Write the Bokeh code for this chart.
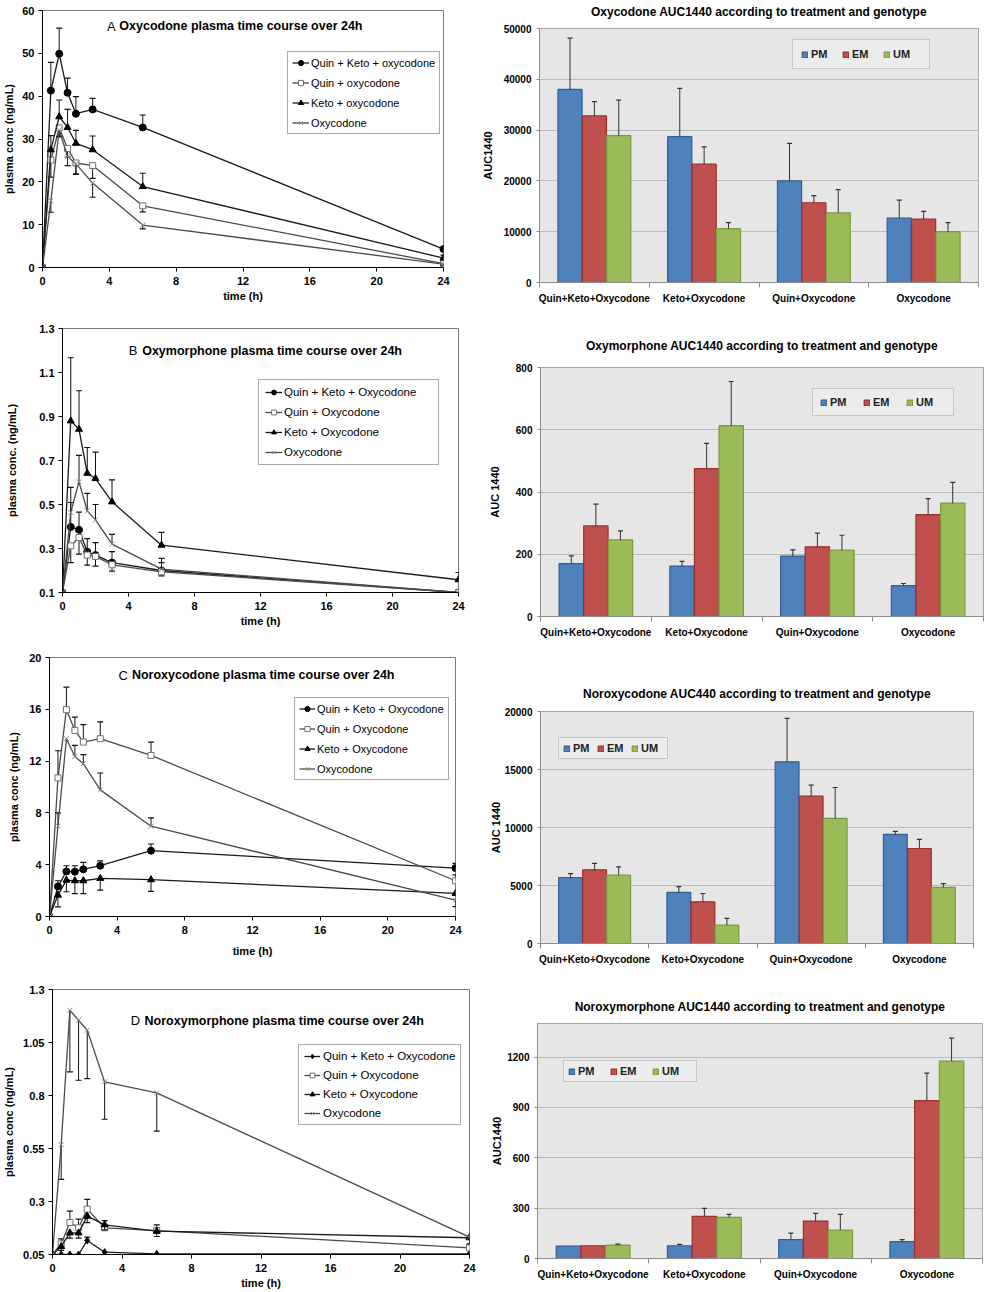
from bokeh.plotting import figure
from bokeh.layouts import column, row
from bokeh.models import Range1d, FixedTicker, Legend, LegendItem, Label, LinearAxis
from bokeh.embed import file_html
from bokeh.resources import INLINE

FONT = "Liberation Sans"

# ---------------- data: time courses ----------------
TIME = [0, 0.5, 1, 1.5, 2, 3, 6, 24]
TIME_TICKS = [0, 4, 8, 12, 16, 20, 24]

LABELS_A = ["Quin + Keto + oxycodone", "Quin + oxycodone", "Keto + oxycodone", "Oxycodone"]
LABELS_BCD = ["Quin + Keto + Oxycodone", "Quin + Oxycodone", "Keto + Oxycodone", "Oxycodone"]

# A: Oxycodone (ng/mL); errors signed (+ up, - down)
A_QKO = [0, 41.3, 49.9, 40.8, 35.9, 36.9, 32.7, 4.3]
A_QKO_ERR = [0, 6.6, 6.0, 3.4, 4.0, 2.6, 2.9, 0.4]
A_QUIN = [0, 25.1, 32.6, 27.8, 24.4, 23.8, 14.4, 0.9]
A_QUIN_ERR = [0, -4.0, -2.1, -2.0, -2.6, -3.0, -1.4, -0.3]
A_KETO = [0, 27.5, 35.2, 32.7, 29.0, 27.5, 18.9, 2.2]
A_KETO_ERR = [0, 3.3, 3.9, 4.2, 3.0, 3.2, 3.1, 0.7]
A_OXY = [0, 15.6, 32.1, 25.9, 24.2, 19.7, 9.9, 0.8]
A_OXY_ERR = [0, -2.7, -1.5, -2.1, -2.4, -3.3, -0.9, -0.3]
A_YTICKS = [0, 10, 20, 30, 40, 50, 60]
A_YTICK_LABELS = ["0", "10", "20", "30", "40", "50", "60"]

# B: Oxymorphone
B_QKO = [0.1, 0.398, 0.385, 0.285, 0.27, 0.236, 0.20, 0.10]
B_QKO_ERR = [0, 0.18, 0.08, 0.06, 0.057, 0.05, 0.055, 0]
B_QUIN = [0.1, 0.312, 0.35, 0.27, 0.264, 0.226, 0.194, 0.10]
B_QUIN_ERR = [0, -0.076, -0.076, -0.046, -0.044, -0.029, -0.018, 0]
B_KETO = [0.1, 0.88, 0.842, 0.642, 0.618, 0.512, 0.315, 0.158]
B_KETO_ERR = [0, 0.287, 0.175, 0.117, 0.12, 0.10, 0.058, 0.033]
B_OXY = [0.1, 0.464, 0.603, 0.471, 0.43, 0.32, 0.206, 0.10]
B_OXY_ERR = [0, 0.045, 0.12, 0.08, 0.07, 0.044, 0.03, 0]
B_YTICKS = [0.1, 0.3, 0.5, 0.7, 0.9, 1.1, 1.3]
B_YTICK_LABELS = ["0.1", "0.3", "0.5", "0.7", "0.9", "1.1", "1.3"]

# C: Noroxycodone
C_QKO = [0, 2.32, 3.48, 3.46, 3.64, 3.92, 5.08, 3.74]
C_QKO_ERR = [0, 0.44, 0.44, 0.46, 0.54, 0.38, 0.52, 0.36]
C_QUIN = [0, 10.7, 15.97, 14.37, 13.47, 13.73, 12.44, 2.76]
C_QUIN_ERR = [0, 2.1, 1.75, 1.03, 1.35, 1.3, 1.03, 0.45]
C_KETO = [0, 1.65, 2.81, 2.76, 2.76, 2.94, 2.84, 1.78]
C_KETO_ERR = [0, -0.9, -0.9, -1.0, -1.0, -0.9, -0.9, 0]
C_OXY = [0, 7.0, 13.73, 12.36, 11.8, 9.78, 6.97, 1.26]
C_OXY_ERR = [0, 1.0, 0, 0.85, 0.7, 1.3, 0.65, -0.5]
C_YTICKS = [0, 4, 8, 12, 16, 20]
C_YTICK_LABELS = ["0", "4", "8", "12", "16", "20"]

# D: Noroxymorphone
D_QKO = [0.05, 0.05, 0.05, 0.05, 0.116, 0.061, 0.053, 0.053]
D_QKO_ERR = [0, 0, 0, 0, 0.016, 0, 0, 0]
D_QUIN = [0.05, 0.10, 0.201, 0.176, 0.264, 0.176, 0.163, 0.081]
D_QUIN_ERR = [0, 0.024, 0.054, 0.041, 0.046, 0.034, 0.027, 0]
D_KETO = [0.05, 0.088, 0.152, 0.152, 0.231, 0.19, 0.16, 0.129]
D_KETO_ERR = [0, -0.019, -0.025, -0.025, -0.031, -0.024, -0.025, -0.029]
D_OXY = [0.05, 0.568, 1.202, 1.155, 1.108, 0.864, 0.812, 0.132]
D_OXY_ERR = [0, -0.164, -0.291, -0.283, -0.228, -0.176, -0.18, 0]
D_YTICKS = [0.05, 0.3, 0.55, 0.8, 1.05, 1.3]
D_YTICK_LABELS = ["0.05", "0.3", "0.55", "0.8", "1.05", "1.3"]

# ---------------- data: AUC bar charts ----------------
CATEGORIES = ["Quin+Keto+Oxycodone", "Keto+Oxycodone", "Quin+Oxycodone", "Oxycodone"]
GENOTYPES = ["PM", "EM", "UM"]

A2_PM = [38000, 28700, 20000, 12700]
A2_PM_ERR = [10100, 9500, 7400, 3500]
A2_EM = [32800, 23300, 15700, 12500]
A2_EM_ERR = [2800, 3400, 1400, 1500]
A2_UM = [28900, 10600, 13700, 10000]
A2_UM_ERR = [7000, 1200, 4600, 1800]
A2_YTICKS = [0, 10000, 20000, 30000, 40000, 50000]

B2_PM = [170, 162, 194, 99]
B2_PM_ERR = [25, 15, 20, 7]
B2_EM = [291, 475, 224, 327]
B2_EM_ERR = [70, 81, 44, 52]
B2_UM = [246, 613, 213, 364]
B2_UM_ERR = [29, 142, 48, 67]
B2_YTICKS = [0, 200, 400, 600, 800]

C2_PM = [5690, 4400, 15660, 9400]
C2_PM_ERR = [340, 510, 3740, 260]
C2_EM = [6350, 3590, 12700, 8190]
C2_EM_ERR = [550, 720, 950, 780]
C2_UM = [5890, 1580, 10780, 4830]
C2_UM_ERR = [720, 580, 2670, 340]
C2_YTICKS = [0, 5000, 10000, 15000, 20000]

D2_PM = [74, 76, 113, 100]
D2_PM_ERR = [0, 8, 38, 13]
D2_EM = [76, 251, 223, 941]
D2_EM_ERR = [0, 48, 46, 163]
D2_UM = [80, 245, 169, 1176]
D2_UM_ERR = [6, 18, 94, 137]
D2_YTICKS = [0, 300, 600, 900, 1200]

# ---------------- styling ----------------
SERIES_STYLE = [
    dict(marker="circle", size=7, fill="black", mline="black", lcol="#1a1a1a"),
    dict(marker="square", size=6, fill="white", mline="#707070", lcol="#4a4a4a"),
    dict(marker="triangle", size=7, fill="black", mline="black", lcol="#1a1a1a"),
    dict(marker="x", size=7, fill=None, mline="#8a8a8a", lcol="#4a4a4a"),
]
BAR_FILL = ["#4f81bd", "#c0504d", "#9bbb59"]
BAR_LINE = ["#2f5f95", "#9a2f2c", "#7a9a3f"]

WL, WR = 478, 507
ROW_H = [310, 335, 325, 322]


def error_bars(p, xs, vals, errs, color, cap):
    x_e = [x for x, e in zip(xs, errs) if e != 0]
    y0 = [v for v, e in zip(vals, errs) if e != 0]
    y1 = [v + e for v, e in zip(vals, errs) if e != 0]
    if x_e:
        p.segment(x0=x_e, y0=y0, x1=x_e, y1=y1, line_color=color, line_width=1)
        p.scatter(x_e, y1, marker="dash", size=cap, line_color=color, line_width=1.2)


def time_panel(cfg):
    p = figure(width=WL, height=cfg["h"], output_backend="svg", toolbar_location=None,
               title_location=None,
               x_range=Range1d(0, 24), y_range=Range1d(cfg["yticks"][0], cfg["yticks"][-1]),
               min_border_left=cfg["b"][0], min_border_right=cfg["b"][1],
               min_border_top=cfg["b"][2], min_border_bottom=cfg["b"][3])
    p.xgrid.visible = False
    p.ygrid.visible = False
    p.outline_line_color = "#7a7a7a"
    p.background_fill_color = "white"
    p.border_fill_color = "white"
    for ax in (p.xaxis[0], p.yaxis[0]):
        ax.axis_line_color = "black"
        ax.major_tick_line_color = "black"
        ax.minor_tick_line_color = None
        ax.major_tick_in = 0
        ax.major_tick_out = 4
        ax.major_label_text_font = FONT
        ax.major_label_text_font_size = "11px"
        ax.major_label_text_font_style = "bold"
        ax.major_label_text_color = "black"
        ax.axis_label_text_font = FONT
        ax.axis_label_text_font_size = "11px"
        ax.axis_label_text_font_style = "bold"
        ax.axis_label_text_color = "black"
    p.xaxis.ticker = FixedTicker(ticks=TIME_TICKS)
    p.xaxis.axis_label = "time (h)"
    p.xaxis.major_label_standoff = 5
    p.xaxis.axis_label_standoff = cfg["xls"]
    p.yaxis.ticker = FixedTicker(ticks=cfg["yticks"])
    p.yaxis.major_label_overrides = dict(zip(cfg["yticks"], cfg["ytl"]))
    p.yaxis.axis_label = cfg["ylabel"]
    p.yaxis.major_label_standoff = 4
    p.yaxis.axis_label_standoff = cfg["yls"]

    items = []
    for k, (vals, errs) in enumerate(cfg["series"]):
        st = dict(SERIES_STYLE[k])
        if k == 0 and cfg.get("qko_marker"):
            st["marker"] = cfg["qko_marker"]
            st["size"] = 7
        error_bars(p, TIME, vals, errs, "#111111", 6)
        rl = p.line(TIME, vals, line_color=st["lcol"], line_width=1.3)
        rm = p.scatter(TIME, vals, marker=st["marker"], size=st["size"],
                       fill_color=st["fill"], line_color=st["mline"], line_width=1)
        items.append(LegendItem(label=cfg["labels"][k], renderers=[rl, rm]))
    lg = cfg["lg"]
    leg = Legend(items=items, location=lg["loc"], margin=0, padding=lg["pad"],
                 spacing=lg["sp"], glyph_width=lg["gw"], glyph_height=lg["lh"],
                 label_height=lg["lh"], label_standoff=lg["std"],
                 label_text_font=FONT, label_text_font_size=lg["fs"],
                 label_text_color="black", border_line_color="#555555",
                 background_fill_color="white", background_fill_alpha=1)
    if lg.get("lw"):
        leg.label_width = lg["lw"]
    p.add_layout(leg, "center")

    tx, ty, tx2 = cfg["tpos"]
    p.add_layout(Label(x=tx, y=ty, text=cfg["letter"], text_font=FONT, text_font_size="13px",
                       text_baseline="middle", text_align="left", text_color="black"))
    p.add_layout(Label(x=tx2, y=ty, text=cfg["title"], text_font=FONT, text_font_size="12.5px",
                       text_font_style="bold", text_baseline="middle", text_align="left",
                       text_color="black"))
    return p


def bar_panel(cfg):
    b = cfg["b"]
    p = figure(width=WR, height=cfg["h"], output_backend="svg", toolbar_location=None,
               title_location=None,
               x_range=Range1d(0, len(CATEGORIES)), y_range=Range1d(0, cfg["ymax"]),
               min_border_left=b[0], min_border_right=b[1],
               min_border_top=b[2], min_border_bottom=b[3])
    # chart title drawn as the label of a bare axis above the plot area
    tax = LinearAxis(axis_label=cfg["title"], ticker=FixedTicker(ticks=[]),
                     axis_line_color=None, major_tick_line_color=None,
                     minor_tick_line_color=None, major_tick_out=0, major_tick_in=0,
                     minor_tick_out=0, minor_tick_in=0, major_label_standoff=0,
                     axis_label_standoff=cfg["tst"], axis_label_text_font=FONT,
                     axis_label_text_font_size="12px", axis_label_text_font_style="bold",
                     axis_label_text_color="black")
    p.add_layout(tax, "above")
    p.background_fill_color = "#e6e6e6"
    p.border_fill_color = "white"
    p.outline_line_color = "#a6a6a6"
    p.xgrid.visible = False
    p.ygrid.ticker = FixedTicker(ticks=cfg["yticks"])
    p.ygrid.grid_line_color = "#b9b9b9"
    p.ygrid.grid_line_width = 1

    for ax in (p.below[0], p.left[0]):
        ax.axis_line_color = "#8c8c8c"
        ax.major_label_text_font = FONT
        ax.major_label_text_font_size = "10px"
        ax.major_label_text_font_style = "bold"
        ax.major_label_text_color = "black"
        ax.axis_label_text_font = FONT
        ax.axis_label_text_font_size = "11px"
        ax.axis_label_text_font_style = "bold"
        ax.axis_label_text_color = "black"
    xax = p.below[0]
    yax = p.left[0]
    centers = [i + 0.5 for i in range(len(CATEGORIES))]
    bounds = [float(i) for i in range(len(CATEGORIES) + 1)]
    xax.ticker = FixedTicker(ticks=centers, minor_ticks=bounds)
    xax.major_label_overrides = dict(zip(centers, CATEGORIES))
    xax.major_tick_out = 0
    xax.major_tick_in = 0
    xax.minor_tick_out = 5
    xax.minor_tick_in = 0
    xax.minor_tick_line_color = "#8c8c8c"
    xax.major_label_standoff = 5
    yax.ticker = FixedTicker(ticks=cfg["yticks"])
    yax.major_tick_out = 3
    yax.major_tick_in = 0
    yax.major_tick_line_color = "#8c8c8c"
    yax.minor_tick_line_color = None
    yax.major_label_standoff = 5
    yax.axis_label = cfg["ylabel"]
    yax.axis_label_standoff = cfg["yls"]

    items = []
    for k, (vals, errs) in enumerate(cfg["series"]):
        xs = [c + (k - 1) * 0.222 for c in centers]
        r = p.vbar(x=xs, top=vals, width=0.22, fill_color=BAR_FILL[k],
                   line_color=BAR_LINE[k], line_width=1.2)
        error_bars(p, xs, vals, errs, "#333333", 5)
        items.append(LegendItem(label=GENOTYPES[k], renderers=[r]))
    lg = cfg["lg"]
    leg = Legend(items=items, location=lg["loc"], orientation="horizontal", margin=0,
                 padding=lg["pad"], spacing=lg["sp"], glyph_width=7, glyph_height=7,
                 label_height=lg["lh"], label_width=lg["lw"], label_standoff=3,
                 label_text_font=FONT, label_text_font_size="11px",
                 label_text_font_style="bold", label_text_color="#222222",
                 border_line_color="#a0a0a0", background_fill_color="#ececec",
                 background_fill_alpha=1)
    p.add_layout(leg, "center")
    return p


pA = time_panel(dict(h=ROW_H[0], b=(41, 35, 10, 43), yticks=A_YTICKS, ytl=A_YTICK_LABELS,
                     ylabel="plasma conc (ng/mL)", yls=4, xls=2, labels=LABELS_A,
                     series=[(A_QKO, A_QKO_ERR), (A_QUIN, A_QUIN_ERR), (A_KETO, A_KETO_ERR), (A_OXY, A_OXY_ERR)],
                     lg=dict(loc=(245, 133), pad=4, sp=7, gw=17, lh=13, std=2, fs="11px"),
                     letter="A", title="Oxycodone plasma time course over 24h", tpos=(3.86, 56.3, 4.6)))
pB = time_panel(dict(h=ROW_H[1], b=(62, 20, 18, 53), yticks=B_YTICKS, ytl=B_YTICK_LABELS,
                     ylabel="plasma conc. (ng/mL)", yls=18, xls=2, labels=LABELS_BCD,
                     series=[(B_QKO, B_QKO_ERR), (B_QUIN, B_QUIN_ERR), (B_KETO, B_KETO_ERR), (B_OXY, B_OXY_ERR)],
                     lg=dict(loc=(196, 127), pad=6, sp=8, gw=17, lh=12, std=2, fs="11.5px", lw=148),
                     letter="B", title="Oxymorphone plasma time course over 24h", tpos=(4.02, 1.198, 4.83)))
pC = time_panel(dict(h=ROW_H[2], b=(49, 23, 12, 54), yticks=C_YTICKS, ytl=C_YTICK_LABELS,
                     ylabel="plasma conc (ng/mL)", yls=6, xls=8, labels=LABELS_BCD,
                     series=[(C_QKO, C_QKO_ERR), (C_QUIN, C_QUIN_ERR), (C_KETO, C_KETO_ERR), (C_OXY, C_OXY_ERR)],
                     lg=dict(loc=(245, 136), pad=4, sp=7, gw=16, lh=13, std=2, fs="11px"),
                     letter="C", title="Noroxycodone plasma time course over 24h", tpos=(4.08, 18.63, 4.87)))
pD = time_panel(dict(h=ROW_H[3], b=(52, 9, 19, 38), yticks=D_YTICKS, ytl=D_YTICK_LABELS,
                     ylabel="plasma conc (ng/mL)", yls=5, xls=2, labels=LABELS_BCD, qko_marker="diamond",
                     series=[(D_QKO, D_QKO_ERR), (D_QUIN, D_QUIN_ERR), (D_KETO, D_KETO_ERR), (D_OXY, D_OXY_ERR)],
                     lg=dict(loc=(246, 129), pad=5, sp=7, gw=16, lh=12, std=3, fs="11.5px"),
                     letter="D", title="Noroxymorphone plasma time course over 24h", tpos=(4.5, 1.152, 5.3)))

pA2 = bar_panel(dict(h=ROW_H[0], b=(60, 7, 28, 28), ymax=50000, yticks=A2_YTICKS, ylabel="AUC1440", yls=7,
                     title="Oxycodone AUC1440 according to treatment and genotype", tst=10,
                     series=[(A2_PM, A2_PM_ERR), (A2_EM, A2_EM_ERR), (A2_UM, A2_UM_ERR)],
                     lg=dict(loc=(253, 213), pad=8, sp=3, lh=9, lw=28)))
pB2 = bar_panel(dict(h=ROW_H[1], b=(62, 2, 57, 29), ymax=800, yticks=B2_YTICKS, ylabel="AUC 1440", yls=12,
                     title="Oxymorphone AUC1440 according to treatment and genotype", tst=15,
                     series=[(B2_PM, B2_PM_ERR), (B2_EM, B2_EM_ERR), (B2_UM, B2_UM_ERR)],
                     lg=dict(loc=(272, 200), pad=7, sp=3, lh=9, lw=30)))
pC2 = bar_panel(dict(h=ROW_H[2], b=(62, 12, 66, 27), ymax=20000, yticks=C2_YTICKS, ylabel="AUC 1440", yls=0,
                     title="Noroxycodone AUC440 according to treatment and genotype", tst=11,
                     series=[(C2_PM, C2_PM_ERR), (C2_EM, C2_EM_ERR), (C2_UM, C2_UM_ERR)],
                     lg=dict(loc=(18, 184), pad=4, sp=2, lh=9, lw=22)))
pD2 = bar_panel(dict(h=ROW_H[3], b=(59, 3, 53, 34), ymax=1400, yticks=D2_YTICKS, ylabel="AUC1440", yls=1,
                     title="Noroxymorphone AUC1440 according to treatment and genotype", tst=10,
                     series=[(D2_PM, D2_PM_ERR), (D2_EM, D2_EM_ERR), (D2_UM, D2_UM_ERR)],
                     lg=dict(loc=(26, 176), pad=4, sp=2, lh=8, lw=30)))

# wrap each figure so that the rows do not force the plot frames to line up
layout = column(
    row(column(pA), column(pA2)),
    row(column(pB), column(pB2)),
    row(column(pC), column(pC2)),
    row(column(pD), column(pD2)),
)
open("out.html", "w").write(file_html(layout, INLINE))
